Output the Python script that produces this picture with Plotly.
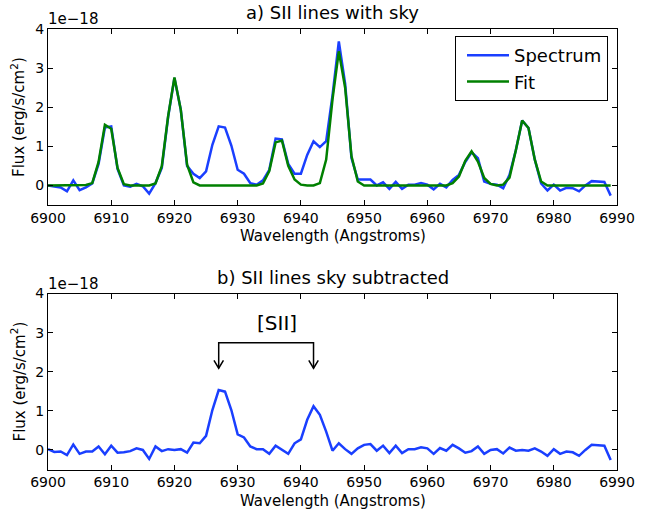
import numpy as np
import plotly.graph_objects as go

# Wavelength grid (Angstroms), one sample per Angstrom
wave_start = 6900
n_pix = 90
wavelength = wave_start + np.arange(n_pix)

# a) spectrum with sky lines, units of 1e-18
spectrum = [0.0, -0.03, -0.05, -0.15, 0.13, -0.12, -0.05, 0.05, 0.55, 1.48,
            1.51, 0.42, 0.0, -0.03, 0.04, -0.02, -0.21, 0.06, 0.45, 1.75,
            2.75, 1.94, 0.5, 0.3, 0.19, 0.36, 1.04, 1.51, 1.48, 1.02,
            0.4, 0.3, 0.06, 0.02, 0.13, 0.4, 1.2, 1.18, 0.55, 0.3,
            0.3, 0.78, 1.13, 0.98, 1.13, 2.3, 3.68, 2.6, 0.7, 0.15,
            0.15, 0.15, 0.0, 0.08, -0.09, 0.09, -0.09, 0.02, 0.02, 0.06,
            0.02, -0.1, 0.04, -0.05, 0.14, 0.27, 0.6, 0.85, 0.7, 0.1,
            0.04, 0.02, -0.07, 0.27, 0.9, 1.66, 1.47, 0.66, 0.05, -0.13,
            0.02, -0.13, -0.06, -0.07, -0.15, 0.0, 0.11, 0.1, 0.09, -0.26]

fit = [0.0, 0.0, 0.0, 0.0, 0.0, 0.0, 0.01, 0.06, 0.6, 1.55,
       1.45, 0.45, 0.03, 0.0, 0.0, 0.0, 0.0, 0.05, 0.49, 1.77,
       2.76, 1.94, 0.53, 0.08, 0.0, 0.0, 0.0, 0.0, 0.0, 0.0,
       0.0, 0.0, 0.0, 0.0, 0.05, 0.37, 1.1, 1.15, 0.5, 0.15,
       0.02, 0.0, 0.0, 0.06, 0.66, 2.2, 3.43, 2.5, 0.75, 0.1,
       0.0, 0.0, 0.0, 0.0, 0.0, 0.0, 0.0, 0.0, 0.0, 0.0,
       0.0, 0.0, 0.0, 0.0, 0.06, 0.23, 0.63, 0.87, 0.61, 0.19,
       0.04, 0.0, 0.02, 0.2, 0.9, 1.66, 1.47, 0.66, 0.1, 0.0,
       0.0, 0.0, 0.0, 0.0, 0.0, 0.0, 0.0, 0.0, 0.0, 0.0]

# b) sky subtracted spectrum
subtracted = [0.02, -0.05, -0.04, -0.13, 0.14, -0.1, -0.04, -0.04, 0.09, -0.11,
              0.11, -0.07, -0.06, -0.03, 0.04, 0.0, -0.23, 0.09, -0.03, 0.02,
              0.0, 0.02, -0.07, 0.19, 0.17, 0.36, 1.02, 1.53, 1.49, 1.02,
              0.4, 0.32, 0.09, 0.02, 0.02, -0.1, 0.11, 0.0, -0.1, 0.17,
              0.27, 0.77, 1.12, 0.9, 0.47, -0.02, 0.17, 0.02, -0.1, 0.04,
              0.13, 0.15, -0.02, 0.11, -0.08, 0.11, -0.08, 0.02, 0.02, 0.07,
              0.04, -0.1, 0.05, -0.02, 0.13, 0.04, -0.07, -0.03, 0.09, -0.1,
              0.0, 0.02, -0.09, 0.06, -0.02, 0.0, -0.02, 0.04, -0.04, -0.15,
              0.02, -0.1, -0.04, -0.06, -0.15, 0.0, 0.13, 0.12, 0.11, -0.26]

# [SII] doublet marker positions
sii_lines = [6927, 6942]
bracket_top = 2.74
arrow_tip = 2.09
label_x, label_y = 6936.2, 3.24

W, H = 650, 511
FONT = "DejaVu Sans"
BLUE = "#1a3fff"
GREEN = "#008000"

xdom = [48 / W, 617 / W]
ydom_top = [1 - 205 / H, 1 - 29 / H]
ydom_bot = [1 - 469.5 / H, 1 - 293.5 / H]

fig = go.Figure()
fig.add_trace(go.Scatter(x=wavelength, y=spectrum, mode="lines", name="Spectrum",
                         line=dict(color=BLUE, width=2.5), xaxis="x", yaxis="y",
                         legendgroup="a"))
fig.add_trace(go.Scatter(x=wavelength, y=fit, mode="lines", name="Fit",
                         line=dict(color=GREEN, width=2.5), xaxis="x", yaxis="y",
                         legendgroup="b"))
fig.add_trace(go.Scatter(x=wavelength, y=subtracted, mode="lines", showlegend=False,
                         line=dict(color=BLUE, width=2.5), xaxis="x2", yaxis="y2"))

xaxis_style = dict(range=[6900, 6990], tickvals=list(range(6900, 6991, 10)),
                   ticks="inside", ticklen=5, tickcolor="black", showline=True,
                   linecolor="black", linewidth=1, mirror="allticks", showgrid=False,
                   zeroline=False, tickfont=dict(family=FONT, size=14, color="black"),
                   domain=xdom, automargin=False)
yaxis_style = dict(range=[-0.5, 4], tickvals=[0, 1, 2, 3, 4], ticks="inside", ticklen=5,
                   tickcolor="black", showline=True, linecolor="black", linewidth=1,
                   mirror="allticks", showgrid=False, zeroline=False,
                   tickfont=dict(family=FONT, size=14, color="black"), automargin=False)

fig.update_layout(
    width=W, height=H, margin=dict(l=0, r=0, t=0, b=0),
    plot_bgcolor="white", paper_bgcolor="white",
    font=dict(family=FONT, color="black"),
    xaxis=dict(**xaxis_style, anchor="y"),
    yaxis=dict(**yaxis_style, domain=ydom_top, anchor="x"),
    xaxis2=dict(**xaxis_style, anchor="y2"),
    yaxis2=dict(**yaxis_style, domain=ydom_bot, anchor="x2"),
    legend=dict(x=608 / W, y=1 - 36 / H, xanchor="right", yanchor="top",
                bordercolor="black", borderwidth=1, bgcolor="white",
                font=dict(family=FONT, size=18), tracegroupgap=0,
                indentation=6, itemwidth=42),
)

annots = []
for dom, title in [(ydom_top, "a) SII lines with sky"),
                   (ydom_bot, "b) SII lines sky subtracted")]:
    top_px = (1 - dom[1]) * H
    bot_px = (1 - dom[0]) * H
    annots.append(dict(text=title, x=(xdom[0] + xdom[1]) / 2, y=1 - (top_px - 16.5) / H,
                       xref="paper", yref="paper", xanchor="center", yanchor="middle",
                       showarrow=False, font=dict(family=FONT, size=18)))
    annots.append(dict(text="1e\u221218", x=xdom[0] - 2 / W, y=1 - (top_px - 10) / H,
                       xref="paper", yref="paper", xanchor="left", yanchor="middle",
                       showarrow=False, font=dict(family=FONT, size=15)))
    annots.append(dict(text="Wavelength (Angstroms)", x=(xdom[0] + xdom[1]) / 2,
                       y=1 - (bot_px + 31) / H, xref="paper", yref="paper",
                       xanchor="center", yanchor="middle",
                       showarrow=False, font=dict(family=FONT, size=15)))
    annots.append(dict(text="Flux (erg/s/cm<sup>2</sup>)", x=18 / W,
                       y=(dom[0] + dom[1]) / 2, xref="paper", yref="paper",
                       xanchor="center", yanchor="middle", textangle=-90,
                       showarrow=False, font=dict(family=FONT, size=15)))

annots.append(dict(text="[SII]", x=label_x, y=label_y, xref="x2", yref="y2",
                   xanchor="center", yanchor="middle",
                   showarrow=False, font=dict(family=FONT, size=20)))
fig.update_layout(annotations=annots)

# bracket with open arrowheads
x1, x2 = sii_lines
fig.add_shape(type="path", xref="x2", yref="y2",
              path=f"M {x1},{arrow_tip} L {x1},{bracket_top} L {x2},{bracket_top} L {x2},{arrow_tip}",
              line=dict(color="black", width=1.5))
for xl in sii_lines:
    fig.add_shape(type="path", xref="x2", yref="y2",
                  path=f"M {xl - 0.75},{arrow_tip + 0.2} L {xl},{arrow_tip} L {xl + 0.75},{arrow_tip + 0.2}",
                  line=dict(color="black", width=1.5))

fig.write_html("out.html", config={"displayModeBar": False},
               post_script="document.body.style.margin='0';")
